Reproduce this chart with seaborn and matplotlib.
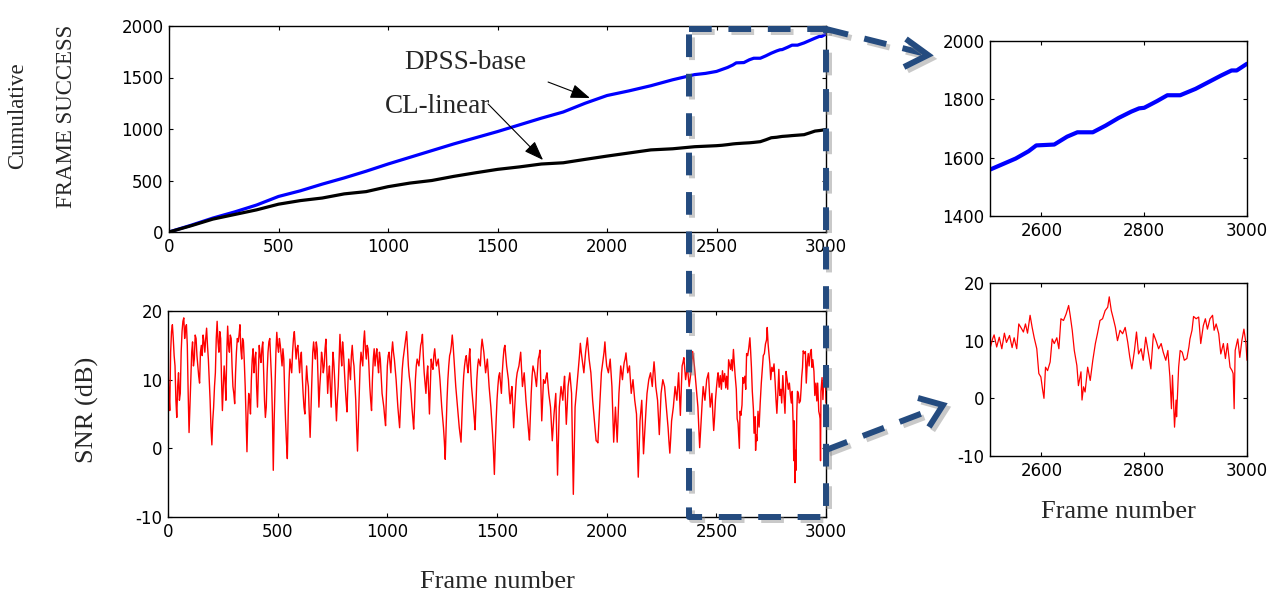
import numpy as np
import pandas as pd
import matplotlib
matplotlib.use("Agg")
import matplotlib.pyplot as plt
import matplotlib.patheffects as pe
from matplotlib.lines import Line2D
import seaborn as sns

# ---------------- data ---------------- #
cum_frames = [0, 100, 200, 300, 400, 500, 600, 700, 800, 900, 1000, 1100, 1200,
              1300, 1400, 1500, 1600, 1700, 1800, 1900, 2000, 2100, 2200, 2300,
              2400, 2450, 2500, 2525, 2550, 2575, 2590, 2625, 2650, 2670, 2700,
              2725, 2750, 2775, 2790, 2800, 2825, 2845, 2870, 2900, 2925, 2950,
              2970, 2980, 3000]
dpss_base = [0, 65, 135, 195, 262, 345, 400, 465, 525, 590, 660, 725, 790,
             855, 915, 975, 1040, 1105, 1165, 1250, 1325, 1370, 1420, 1478,
             1528, 1540, 1559, 1578, 1597, 1622, 1642, 1645, 1672, 1687, 1687,
             1710, 1736, 1758, 1769, 1771, 1794, 1814, 1814, 1836, 1859, 1882,
             1899, 1899, 1922]
cl_linear = [0, 60, 125, 170, 215, 270, 305, 330, 370, 392, 440, 475, 500,
             540, 575, 608, 632, 660, 672, 705, 737, 767, 797, 808,
             828, 833, 838, 842, 848, 855, 858, 863, 866, 870, 877,
             895, 915, 920, 925, 928, 932, 936, 940, 945, 962, 980,
             985, 988, 995]

# SNR at frames 0, 8, 16 ... 2496
snr_coarse = [
    12, 5.5, 17, 16, 12, 4.5, 11, 8, 17, 19, 17.5, 15, 2.3, 10, 15.5, 13, 16, 12, 9.5, 15, 16.5, 14, 17.5, 13, 7,
    0.5, 6, 11, 18.5, 14, 16, 5.5, 12, 7, 17.8, 14, 16, 9, 6.5, 14, 15.5, 18, 13, 15.5, 9, -0.5, 8, 5, 13, 11,
    14, 6, 15, 12.5, 15.5, 7, 6, 14, 16, 10, -3.2, 9, 16.9, 14, 15, 12, 13, 4, -1.5, 10, 12, 14, 17, 13, 15,
    11, 14, 8, 5, 12, 9, 1.6, 10, 15.5, 13, 14.5, 6, 11, 13, 12, 15.9, 8, 12, 6, 14, 10, 4, 9, 16.6, 12,
    14, 9, 5.3, 13, 10, 15, 12, 7, -0.4, 8, 14, 12, 17.1, 13, 14.5, 9, 5.5, 13, 12, 14.5, 11, 13, 8, 6, 3.3,
    12, 14, 11, 15.5, 13, 10, 6, 3, 9, 13, 15, 17, 12, 9.5, 6, 2.8, 10, 13, 12, 15, 16.6, 11, 8, 12, 5,
    13, 11.5, 14.5, 12, 13, 10, 6, 3, -1.6, 7, 12, 14, 16.5, 13, 9, 6, 3, 0.9, 8, 12, 13.5, 11, 14.5, 9, 6,
    2.7, 10, 13, 12, 15.9, 14, 11, 13, 9, 6, 2, -3.8, 4, 9, 11, 8, 13, 15, 12, 10, 6.5, 9, 3, 8, 11,
    12, 14, 9, 11, 7, 4, 1.2, 8, 12, 11, 9, 13, 14.3, 4, 10, 9.5, 11, 8, 6, 1.1, 5, 8, -3.9, 6, 9,
    7, 10.5, 3.5, 9, 11, 8, -6.7, 6, 9, 12, 15.3, 13, 11, 14, 16.1, 13, 11, 7, 4, 1.1, 0.8, 6, 11, 13, 15.5,
    12, 11, 13, 9, 0.9, 6, 0.9, 8, 12, 10, 12.5, 13.9, 11, 12, 8, 10, 7, 5, -4.2, 4, 7, -0.8, 4, 8, 10,
    11, 9, 12.6, 9, 7, 2, 8, 10, 9, 6, 3, -0.7, 4, 6, 9, 7, 11, 4.8, 12, 13.2, 10, 12, 9, 11, 14.1,
    12, 9, 6, 0.1, 5, 9, 7, 10, 11, 6, 8, 2.6, 7,
]
# SNR at frames 4, 12, 20 ... 2492 (the jitter between the samples above)
snr_between = [
    8, 14, 18, 13.5, 7, 9, 7, 14, 18.5, 16, 18, 8, 6, 14, 12, 16.5, 13.5, 10.5, 14, 13.5, 15.5, 16, 15, 10, 3,
    4, 9, 16, 15.5, 17, 10, 9, 10, 14, 15, 16.5, 12, 8, 11, 16, 16.5, 14.5, 16, 12.5, 4, 5, 7, 10, 14.5, 13,
    9, 11, 13.5, 14.5, 11, 4.5, 11, 15.5, 13, 5, 4, 14, 15, 16, 13.5, 14.5, 8, 1, 5, 13, 11, 16, 15, 14.5, 13,
    13, 10.5, 6, 9, 10, 5, 6, 14, 14, 15.5, 10, 9, 14, 11, 14.5, 12, 10.5, 9, 10, 12.5, 7, 7, 13, 14, 15.5,
    11.5, 7, 9, 11.5, 13.5, 13, 9.5, 3, 4, 12, 13, 15.5, 14.5, 15, 12, 7, 10, 14.5, 13.5, 12.5, 14, 10.5, 7, 4.5, 8,
    13.5, 12.5, 14, 14, 11.5, 8, 4.5, 6, 11.5, 14, 16, 14.5, 10.5, 8, 4.5, 6, 12, 12.5, 13.5, 15.5, 13.5, 9.5, 10.5, 8.5, 9,
    12, 13.5, 13, 12.5, 11.5, 8, 4.5, 1, 3, 10, 13.5, 15, 15, 11, 7.5, 4.5, 2, 4.5, 10.5, 13, 12, 13, 11.5, 7.5, 4.5,
    6.5, 12, 12.5, 14.5, 15, 12.5, 12, 11, 7.5, 4, -0.5, 0.5, 7, 10.5, 9.5, 11, 14.5, 13.5, 11, 8, 8, 6, 5.5, 10, 11.5,
    13, 11.5, 10, 9, 5.5, 2.5, 4.5, 10.5, 11.5, 10, 11, 13.5, 9, 7, 9.5, 10.5, 9.5, 7, 3.5, 3, 6.5, 2, 1, 7.5, 8,
    9, 7, 6, 10, 9.5, 1, 0, 7.5, 10.5, 13.5, 14, 12, 12.5, 15, 14.5, 12, 9, 5.5, 2.5, 1, 3.5, 8.5, 12, 14, 13.5,
    11.5, 12, 11, 5, 3.5, 3.5, 4.5, 10, 11, 11.5, 13, 12.5, 11.5, 10, 9, 8.5, 6, 0.5, 0, 5.5, 3, 1.5, 6, 9, 10.5,
    10, 11, 11, 8, 4.5, 5, 9, 9.5, 7.5, 4.5, 1, 1.5, 5, 7.5, 8, 9, 8, 8.5, 12.5, 11.5, 11, 10.5, 10, 12.5, 13,
    10.5, 7.5, 3, 2.5, 7, 8, 8.5, 10.5, 8.5, 7, 5, 4.5,
]
# finer reading of the last 500 frames (zoom panel)
snr_fine_frames = [2500, 2505, 2508, 2513, 2518, 2523, 2528, 2532, 2538, 2543, 2547, 2552, 2556,
                   2560, 2565, 2569, 2573, 2578, 2582, 2586, 2591, 2595, 2599, 2602, 2605, 2608,
                   2612, 2617, 2621, 2625, 2630, 2634, 2638, 2643, 2648, 2653, 2656, 2660, 2664,
                   2669, 2672, 2677, 2679, 2682, 2685, 2690, 2695, 2700, 2705, 2709, 2714, 2719,
                   2724, 2729, 2732, 2736, 2740, 2744, 2748, 2753, 2758, 2763, 2768, 2772, 2776,
                   2781, 2785, 2789, 2794, 2798, 2803, 2809, 2813, 2818, 2823, 2828, 2833, 2837,
                   2842, 2846, 2850, 2853, 2855, 2859, 2862, 2863, 2867, 2870, 2874, 2878, 2883,
                   2887, 2889, 2893, 2896, 2901, 2906, 2910, 2915, 2919, 2923, 2928, 2933, 2936,
                   2940, 2945, 2949, 2954, 2958, 2962, 2967, 2971, 2973, 2975, 2977, 2982, 2986,
                   2990, 2994, 2998, 3000]
snr_fine = [8.6, 10.3, 11.0, 8.9, 10.6, 8.6, 11.3, 9.7, 10.9, 8.8, 10.5, 8.6, 12.9,
            12.3, 11.5, 12.9, 11.3, 14.4, 12.3, 10.5, 8.6, 4.3, 3.7, 1.7, 0.0, 5.4,
            4.8, 6.3, 10.3, 9.5, 10.5, 8.6, 13.8, 13.5, 14.6, 16.1, 14.4, 11.8, 8.3,
            5.7, 2.2, 4.6, -0.3, 2.0, 1.1, 5.4, 3.1, 6.6, 9.5, 11.2, 13.5, 13.8,
            15.2, 15.8, 17.6, 15.2, 13.8, 12.3, 10.0, 11.8, 11.2, 12.3, 9.7, 7.1, 5.1,
            8.3, 11.5, 7.7, 8.6, 6.6, 10.6, 7.4, 5.1, 11.2, 10.0, 8.6, 9.5, 8.0,
            6.6, 8.3, 3.7, -1.8, 4.0, -5.0, -0.3, -3.2, 5.4, 8.3, 8.0, 6.6, 6.9,
            8.9, 10.3, 11.8, 14.2, 13.8, 14.1, 9.5, 12.6, 13.8, 12.0, 13.8, 14.4, 11.8,
            12.9, 11.2, 7.7, 9.5, 6.9, 9.5, 5.4, 4.8, 4.3, -1.8, 8.3, 10.3, 7.1,
            10.0, 12.0, 9.5, 6.6]

snr = pd.DataFrame({
    "frame": list(np.arange(0, 2500, 8)) + list(np.arange(4, 2500, 8)) + snr_fine_frames,
    "snr": snr_coarse + snr_between + snr_fine,
}).sort_values("frame")

W, H = 1281, 597
NAVY = "#244b7f"
SERIF = "Liberation Serif"

sns.set_style("white")
plt.rcParams["font.family"] = ["DejaVu Sans"]
plt.rcParams["axes.unicode_minus"] = False

fig = plt.figure(figsize=(W / 100, H / 100), dpi=100, facecolor="white")


def box(l, t, r, b):
    return [l / W, 1 - b / H, (r - l) / W, (b - t) / H]


def matlab_axes(ax):
    for s in ax.spines.values():
        s.set_visible(True)
        s.set_color("black")
        s.set_linewidth(1.0)
    ax.tick_params(direction="in", bottom=True, left=True, top=True, right=True,
                   length=3, width=0.8, labelsize=12, pad=4, colors="black")
    ax.set_xlabel("")
    ax.set_ylabel("")


ax_cum = fig.add_axes(box(169, 26, 826, 232))
ax_snr = fig.add_axes(box(168, 311, 826, 517))
ax_cz = fig.add_axes(box(990, 41, 1247, 216))
ax_sz = fig.add_axes(box(990, 283, 1247, 456))

# ---------------- cumulative success ---------------- #
sns.lineplot(x=cum_frames, y=dpss_base, ax=ax_cum, color="#0000ff", linewidth=2.3)
sns.lineplot(x=cum_frames, y=cl_linear, ax=ax_cum, color="black", linewidth=2.3)
ax_cum.set_xlim(0, 3000)
ax_cum.set_ylim(0, 2000)
ax_cum.set_xticks(range(0, 3001, 500))
ax_cum.set_yticks(range(0, 2001, 500))
matlab_axes(ax_cum)

ax_cum.text(1352, 1641, "DPSS-base", ha="center", va="center", fontsize=19.5, family=SERIF)
ax_cum.text(1224, 1223, "CL-linear", ha="center", va="center", fontsize=19.5, family=SERIF)
arr = dict(arrowstyle="-|>,head_length=0.6,head_width=0.22", color="black", lw=0.8,
           mutation_scale=20, shrinkA=0, shrinkB=0)
ax_cum.annotate("", xy=(1922, 1301), xytext=(1731, 1456), arrowprops=arr)
ax_cum.annotate("", xy=(1708, 699), xytext=(1457, 1243), arrowprops=arr)

# ---------------- SNR ---------------- #
sns.lineplot(data=snr, x="frame", y="snr", ax=ax_snr, color="#ff0000", linewidth=1.0, estimator=None)
ax_snr.set_xlim(0, 3000)
ax_snr.set_ylim(-10, 20)
ax_snr.set_xticks(range(0, 3001, 500))
ax_snr.set_yticks([-10, 0, 10, 20])
matlab_axes(ax_snr)

# ---------------- zoomed panels ---------------- #
sns.lineplot(x=cum_frames, y=dpss_base, ax=ax_cz, color="#0000ff", linewidth=3.0)
ax_cz.set_xlim(2500, 3000)
ax_cz.set_ylim(1400, 2000)
ax_cz.set_xticks([2600, 2800, 3000])
ax_cz.set_yticks([1400, 1600, 1800, 2000])
matlab_axes(ax_cz)

sns.lineplot(data=snr, x="frame", y="snr", ax=ax_sz, color="#ff0000", linewidth=0.9, estimator=None)
ax_sz.set_xlim(2500, 3000)
ax_sz.set_ylim(-10, 20)
ax_sz.set_xticks([2600, 2800, 3000])
ax_sz.set_yticks([-10, 0, 10, 20])
matlab_axes(ax_sz)

# ---------------- labels ---------------- #
fig.text(18 / W, 1 - 116 / H, "Cumulative", rotation=90, ha="center", va="center",
         fontsize=16.5, family=SERIF)
fig.text(66 / W, 1 - 116 / H, "FRAME SUCCESS", rotation=90, ha="center", va="center",
         fontsize=16.5, family=SERIF)
fig.text(87 / W, 1 - 410 / H, "SNR (dB)", rotation=90, ha="center", va="center",
         fontsize=19, family=SERIF)
fig.text(497 / W, 1 - 582 / H, "Frame number", ha="center", va="center", fontsize=19, family=SERIF)
fig.text(1118 / W, 1 - 512 / H, "Frame number", ha="center", va="center", fontsize=19, family=SERIF)

# ---------------- dashed zoom box and arrows ---------------- #
shadow = [pe.SimpleLineShadow(offset=(2.5, -2.5), shadow_color="#888888", alpha=0.45), pe.Normal()]


def fig_line(xs, ys, dashed=True):
    ln = Line2D([x / W for x in xs], [1 - y / H for y in ys], transform=fig.transFigure,
                color=NAVY, linewidth=4.3, solid_capstyle="butt", dash_capstyle="butt",
                solid_joinstyle="miter", path_effects=shadow, zorder=20)
    if dashed:
        ln.set_dashes((3.8, 2.8))
    fig.add_artist(ln)


fig_line([689, 826, 826, 689, 689], [29, 29, 517, 517, 29])
fig_line([826, 922], [29, 53])
fig_line([906, 928, 904], [39, 55, 67], dashed=False)
fig_line([826, 936], [450, 408])
fig_line([918, 943, 929], [398, 405, 427], dashed=False)

fig.savefig("out.png", dpi=100, facecolor="white")
